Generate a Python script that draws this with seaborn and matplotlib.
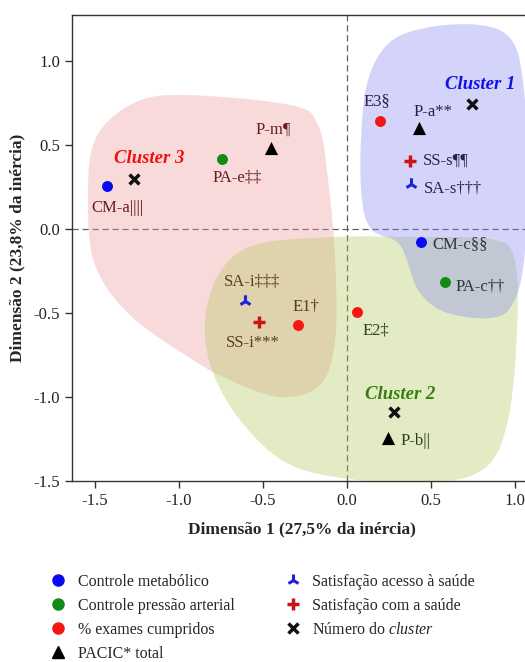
import numpy as np
import pandas as pd
import matplotlib
matplotlib.use("Agg")
import matplotlib.pyplot as plt
import seaborn as sns
from matplotlib.patches import Polygon
from matplotlib.lines import Line2D

# ---------------- data ----------------
point_labels = ["CM-a||||", "PA-e‡‡", "P-m¶", "E3§", "P-a**", "SS-s¶¶", "SA-s†††",
                "CM-c§§", "PA-c††", "E2‡", "E1†", "SA-i‡‡‡", "SS-i***", "P-b||"]
point_category = ["cm", "pa", "pacic", "ex", "pacic", "ss", "sa",
                  "cm", "pa", "ex", "ex", "sa", "ss", "pacic"]
dim1 = [-1.43, -0.744, -0.452, 0.196, 0.429, 0.375, 0.381,
        0.44, 0.583, 0.06, -0.29, -0.607, -0.524, 0.244]
dim2 = [0.256, 0.417, 0.48, 0.643, 0.60, 0.405, 0.268,
        -0.077, -0.315, -0.494, -0.571, -0.43, -0.554, -1.244]

cluster_names = ["Cluster 1", "Cluster 2", "Cluster 3"]
cluster_dim1 = [0.744, 0.28, -1.27]
cluster_dim2 = [0.744, -1.09, 0.30]

legend_labels = ["Controle metabólico", "Controle pressão arterial", "% exames cumpridos",
                 "PACIC* total", "Satisfação acesso à saúde", "Satisfação com a saúde",
                 "Número do $\\mathit{cluster}$"]

# cluster outline control points (data units)
c1_x = [0.089, 0.083, 0.125, 0.256, 0.494, 0.792, 0.970, 1.042, 1.077, 1.054, 0.982, 0.851, 0.583, 0.423, 0.315, 0.149]
c1_y = [0.173, 0.530, 0.887, 1.113, 1.202, 1.214, 1.137, 0.917, 0.411, -0.185, -0.452, -0.530, -0.494, -0.363, -0.095, -0.006]
c2_x = [-0.845, -0.756, -0.548, -0.101, 0.435, 0.881, 1.000, 1.012, 0.958, 0.821, 0.494, -0.012, -0.369, -0.637, -0.804]
c2_y = [-0.542, -0.256, -0.095, -0.048, -0.048, -0.065, -0.196, -0.601, -1.137, -1.423, -1.510, -1.485, -1.387, -1.137, -0.839]
c3_x = [-1.542, -1.500, -1.292, -0.994, -0.339, -0.173, -0.113, -0.071, -0.071, -0.161, -0.399, -0.696, -0.935, -1.292, -1.500]
c3_y = [0.173, 0.530, 0.738, 0.798, 0.738, 0.619, 0.292, -0.185, -0.661, -0.929, -1.000, -0.900, -0.768, -0.512, -0.214]

# ---------------- style ----------------
sns.set_style("ticks")
plt.rcParams["font.family"] = ["Liberation Serif", "DejaVu Serif"]
plt.rcParams["mathtext.fontset"] = "custom"
plt.rcParams["mathtext.it"] = "Liberation Serif:italic"
plt.rcParams["mathtext.rm"] = "Liberation Serif"

cat_style = {
    "cm": dict(marker="o", color="#0a0af0", s=62, linewidth=0),
    "pa": dict(marker="o", color="#138a13", s=62, linewidth=0),
    "ex": dict(marker="o", color="#f51515", s=62, linewidth=0),
    "pacic": dict(marker="^", color="#000000", s=90, linewidth=0),
    "sa": dict(marker="2", color="#2020d8", s=80, linewidth=2.2),
    "ss": dict(marker="+", color="#c81414", s=80, linewidth=2.5),
}

label_layout = {
    "CM-a||||": (11, -22, "center", "#6a1c22"), "PA-e‡‡": (15, -19, "center", "#6a1c22"),
    "P-m¶": (2, 19, "center", "#6a1c22"), "E3§": (-3, 20, "center", "#23234f"),
    "P-a**": (14, 16, "center", "#23234f"), "SS-s¶¶": (13, 0, "left", "#23234f"),
    "SA-s†††": (13, -5, "left", "#23234f"), "CM-c§§": (11, -2, "left", "#2e362e"),
    "PA-c††": (11, -5, "left", "#2e362e"), "E2‡": (5, -18, "left", "#343f20"),
    "E1†": (8, 18, "center", "#5a3b1e"), "SA-i‡‡‡": (7, 20, "center", "#5a3b1e"),
    "SS-i***": (-6, -21, "center", "#5a3b1e"), "P-b||": (12, -3, "left", "#343f20"),
}
title_offsets = {"Cluster 1": (8, 20), "Cluster 2": (6, 18), "Cluster 3": (16, 20)}
title_colors = {"Cluster 1": "#1010ee", "Cluster 2": "#3a7d12", "Cluster 3": "#f01010"}

df = pd.DataFrame({"d1": dim1, "d2": dim2, "cat": point_category, "lab": point_labels})
cdf = pd.DataFrame({"d1": cluster_dim1, "d2": cluster_dim2, "name": cluster_names})

W, H = 525, 662
fig = plt.figure(figsize=(W / 100, H / 100), dpi=100)
ax = fig.add_axes([72 / W, 1 - 481 / H, 460 / W, 466 / H])
ax.set_xlim(-1.637, 1.101)
ax.set_ylim(-1.5, 1.274)

ax.axhline(0, color="#606060", lw=0.9, ls=(0, (5, 3)), zorder=2)
ax.axvline(0, color="#606060", lw=0.9, ls=(0, (5, 3)), zorder=2)

def smooth_closed(xs, ys, n=24):
    P = np.column_stack([xs, ys])
    N = len(P)
    t = np.linspace(0, 1, n, endpoint=False)[:, None]
    out = []
    for i in range(N):
        p0, p1, p2, p3 = P[i - 1], P[i], P[(i + 1) % N], P[(i + 2) % N]
        out.append(0.5 * (2 * p1 + (-p0 + p2) * t + (2 * p0 - 5 * p1 + 4 * p2 - p3) * t ** 2
                          + (-p0 + 3 * p1 - 3 * p2 + p3) * t ** 3))
    return np.vstack(out)

for xs, ys, col in [(c3_x, c3_y, "#f09595"), (c2_x, c2_y, "#acc857"), (c1_x, c1_y, "#8585f1")]:
    ax.add_patch(Polygon(smooth_closed(xs, ys), closed=True, facecolor=col, edgecolor="none",
                         alpha=0.35, zorder=5))

for cat, sub in df.groupby("cat", sort=False):
    sns.scatterplot(data=sub, x="d1", y="d2", ax=ax, zorder=6, legend=False, **cat_style[cat])

sns.scatterplot(data=cdf, x="d1", y="d2", ax=ax, marker="x", color="#111111", s=50,
                linewidth=2.5, zorder=6, legend=False)

for _, r in df.iterrows():
    dx, dy, ha, col = label_layout[r["lab"]]
    ax.annotate(r["lab"], (r["d1"], r["d2"]), xytext=(dx, dy), textcoords="offset pixels",
                ha=ha, va="center", fontsize=12, color=col, zorder=6)

for _, r in cdf.iterrows():
    dx, dy = title_offsets[r["name"]]
    ax.annotate(r["name"], (r["d1"], r["d2"]), xytext=(dx, dy), textcoords="offset pixels",
                ha="center", va="center", fontsize=13.5, fontweight="bold", fontstyle="italic",
                color=title_colors[r["name"]], zorder=6)

ax.set_xticks([-1.5, -1.0, -0.5, 0.0, 0.5, 1.0])
ax.set_yticks([-1.5, -1.0, -0.5, 0.0, 0.5, 1.0])
ax.xaxis.set_major_formatter(matplotlib.ticker.FormatStrFormatter("%.1f"))
ax.yaxis.set_major_formatter(matplotlib.ticker.FormatStrFormatter("%.1f"))
ax.tick_params(axis="both", direction="out", length=5, width=1, color="#333333",
               labelsize=12, labelcolor="#222222")
for sp in ["left", "bottom", "top"]:
    ax.spines[sp].set_color("#333333")
    ax.spines[sp].set_linewidth(1.0)
ax.spines["right"].set_visible(False)

ax.set_xlabel("Dimensão 1 (27,5% da inércia)", fontsize=12.5, fontweight="bold", labelpad=9)
ax.set_ylabel("Dimensão 2 (23,8% da inércia)", fontsize=12.5, fontweight="bold", labelpad=6)

handles = [
    Line2D([], [], ls="", marker="o", color="#0a0af0", markersize=8),
    Line2D([], [], ls="", marker="o", color="#138a13", markersize=8),
    Line2D([], [], ls="", marker="o", color="#f51515", markersize=8),
    Line2D([], [], ls="", marker="^", color="#000000", markersize=9),
    Line2D([], [], ls="", marker="2", color="#2020d8", markersize=9, markeredgewidth=2.2),
    Line2D([], [], ls="", marker="+", color="#c81414", markersize=9, markeredgewidth=2.5),
    Line2D([], [], ls="", marker="x", color="#111111", markersize=7, markeredgewidth=2.5),
]
fig.legend(handles, legend_labels, loc="upper left", bbox_to_anchor=(39 / W, 1 - 564 / H),
           ncol=2, frameon=False, fontsize=11.5, handletextpad=0.65, labelspacing=0.5,
           columnspacing=3.0, handlelength=1.2, borderaxespad=0.2)

fig.savefig("out.png", dpi=100)
